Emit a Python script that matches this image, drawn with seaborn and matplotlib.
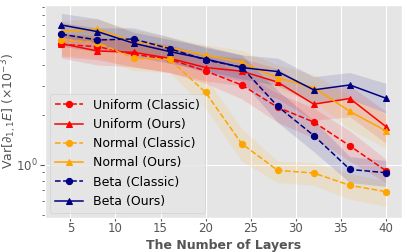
import numpy as np
import pandas as pd
import matplotlib
matplotlib.use("Agg")
import matplotlib.pyplot as plt
import seaborn as sns
from matplotlib.ticker import NullFormatter

plt.style.use("ggplot")

layers = [4, 8, 12, 16, 20, 24, 28, 32, 36, 40]

uni_cls = [5.33, 5.16, 4.64, 4.33, 3.68, 3.03, 2.22, 1.81, 1.30, 0.92]
uni_cls_lo = [4.5, 4.3, 3.9, 3.6, 3.1, 2.5, 1.8, 1.45, 1.05, 0.78]
uni_cls_hi = [6.2, 6.0, 5.4, 5.1, 4.4, 3.6, 2.7, 2.2, 1.6, 1.08]

uni_ours = [5.38, 4.86, 4.77, 4.39, 3.86, 3.67, 3.15, 2.32, 2.51, 1.70]
uni_ours_lo = [4.4, 4.0, 3.9, 3.6, 3.2, 3.0, 2.5, 1.85, 1.95, 1.35]
uni_ours_hi = [6.3, 5.8, 5.7, 5.3, 4.6, 4.4, 3.8, 2.8, 3.0, 2.1]

nor_cls = [5.66, 5.46, 4.39, 4.33, 2.73, 1.34, 0.924, 0.891, 0.751, 0.688]
nor_cls_lo = [4.6, 4.5, 3.7, 3.6, 2.2, 1.05, 0.78, 0.75, 0.62, 0.56]
nor_cls_hi = [6.7, 6.5, 5.2, 5.1, 3.4, 1.65, 1.05, 1.03, 0.88, 0.80]

nor_ours = [6.36, 6.57, 5.58, 5.09, 4.60, 4.15, 3.34, 2.92, 2.10, 1.60]
nor_ours_lo = [5.4, 5.5, 4.7, 4.3, 3.9, 3.5, 2.8, 2.4, 1.65, 1.25]
nor_ours_hi = [7.4, 7.6, 6.5, 5.9, 5.3, 4.9, 4.0, 3.5, 2.6, 2.0]

beta_cls = [6.13, 5.66, 5.74, 5.02, 4.29, 3.88, 2.25, 1.50, 0.937, 0.895]
beta_cls_lo = [5.2, 4.8, 4.9, 4.2, 3.6, 3.2, 1.8, 1.2, 0.78, 0.74]
beta_cls_hi = [7.2, 6.7, 6.7, 5.9, 5.1, 4.6, 2.8, 1.85, 1.12, 1.06]

beta_ours = [6.97, 6.36, 5.41, 4.82, 4.35, 3.86, 3.65, 2.83, 3.03, 2.52]
beta_ours_lo = [5.9, 5.4, 4.5, 4.1, 3.7, 3.3, 3.0, 2.35, 2.5, 2.05]
beta_ours_hi = [8.2, 7.6, 6.3, 5.7, 5.2, 4.6, 4.4, 3.4, 3.6, 3.1]

series = [
    ("Uniform (Classic)", uni_cls, uni_cls_lo, uni_cls_hi, "red", "--", "o"),
    ("Uniform (Ours)", uni_ours, uni_ours_lo, uni_ours_hi, "red", "-", "^"),
    ("Normal (Classic)", nor_cls, nor_cls_lo, nor_cls_hi, "orange", "--", "o"),
    ("Normal (Ours)", nor_ours, nor_ours_lo, nor_ours_hi, "orange", "-", "^"),
    ("Beta (Classic)", beta_cls, beta_cls_lo, beta_cls_hi, "navy", "--", "o"),
    ("Beta (Ours)", beta_ours, beta_ours_lo, beta_ours_hi, "navy", "-", "^"),
]

fig = plt.figure(figsize=(4.07, 2.52), dpi=100)
ax = fig.add_axes([0.111, 0.135, 0.877, 0.845])

for name, vals, lo, hi, col, ls, mk in series:
    ax.fill_between(layers, lo, hi, color=col, alpha=0.12, linewidth=0)
    sns.lineplot(x=layers, y=vals, ax=ax, color=col, linestyle=ls, marker=mk,
                 markersize=4.5, markeredgecolor=col, linewidth=1.1, label=name)

ax.set_yscale("log")
ax.set_ylim(0.477, 9.2)
ax.set_xlim(2.2, 41.8)
ax.set_xticks([5, 10, 15, 20, 25, 30, 35, 40])
ax.yaxis.set_minor_formatter(NullFormatter())
ax.tick_params(axis="both", labelsize=8.5, colors="#555555", pad=2)
ax.tick_params(axis="x", pad=0.5, length=2.5)
ax.grid(which="minor", visible=False)

ax.set_xlabel("The Number of Layers", fontsize=9, fontweight="bold", color="#555555")
ax.xaxis.set_label_coords(0.5, -0.098)
ax.set_ylabel(r"Var$[\partial_{1,1}E]$ ($\times 10^{-3}$)", fontsize=9, color="#555555")
ax.yaxis.set_label_coords(-0.074, 0.5)

ax.legend(loc="lower left", fontsize=9, handlelength=2.2, labelspacing=0.5,
          borderaxespad=0.4, frameon=True)

fig.savefig("out.png", dpi=100)
